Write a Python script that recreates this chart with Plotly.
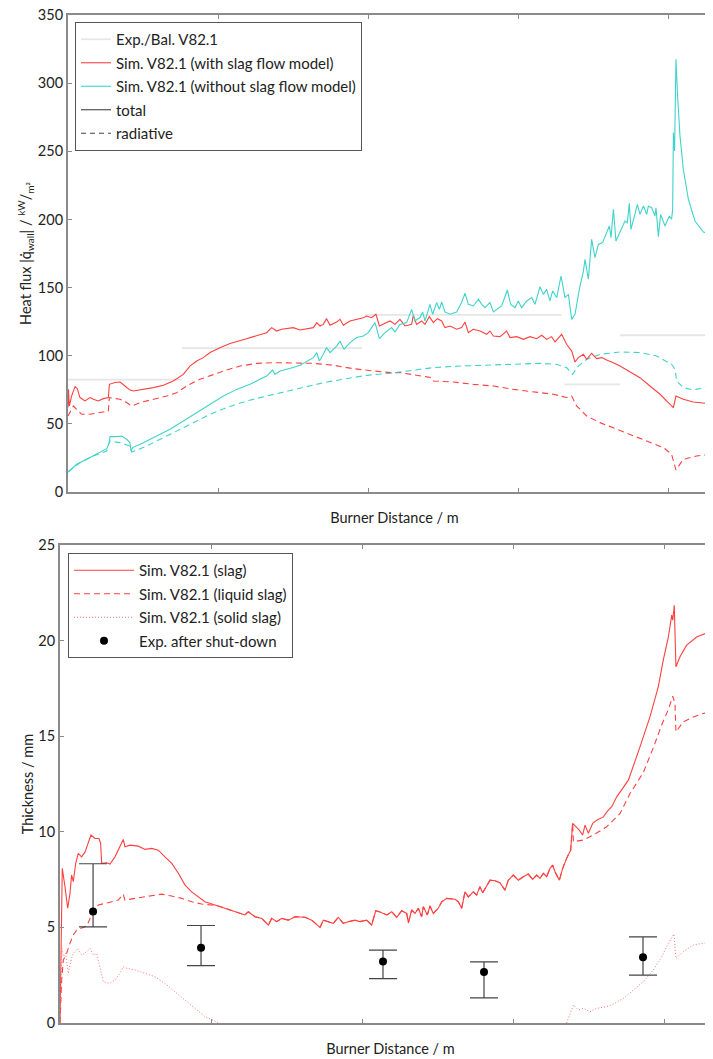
import plotly.graph_objects as go

# ---------------- top panel: heat flux ----------------
exp_start = [0.00, 0.76, 1.98, 3.31, 3.68]
exp_end = [0.76, 1.96, 3.29, 3.68, 4.35]
exp_val = [82.5, 105.5, 130.0, 79.0, 115.0]

red_tot = [(0.000, 62.0), (0.003, 75.3), (0.009, 63.1), (0.024, 70.4), (0.047, 77.3), (0.062, 75.8), (0.080, 69.3),
           (0.113, 66.8), (0.147, 69.3), (0.169, 68.0), (0.202, 66.8), (0.236, 68.5), (0.269, 69.3), (0.276, 79.0),
           (0.313, 80.3), (0.347, 80.7), (0.380, 77.8), (0.413, 74.8), (0.436, 74.1), (0.502, 75.3), (0.569, 76.6),
           (0.636, 78.3), (0.702, 81.4), (0.769, 86.3), (0.813, 92.4), (0.858, 96.1), (0.902, 98.6), (0.947, 102.3),
           (1.013, 105.9), (1.080, 108.9), (1.147, 110.8), (1.191, 112.5), (1.236, 114.0), (1.280, 115.7),
           (1.324, 116.9), (1.358, 120.6), (1.391, 118.1), (1.424, 119.4), (1.458, 119.9), (1.502, 120.6),
           (1.547, 118.9), (1.591, 119.9), (1.636, 120.6), (1.658, 124.3), (1.680, 121.8), (1.702, 123.0),
           (1.724, 127.2), (1.747, 122.3), (1.791, 124.7), (1.813, 126.7), (1.836, 122.3), (1.880, 125.5),
           (1.924, 126.7), (1.969, 127.9), (1.991, 129.1), (2.024, 127.9), (2.053, 130.4), (2.076, 121.8),
           (2.113, 123.8), (2.147, 125.5), (2.180, 123.0), (2.213, 126.7), (2.247, 121.8), (2.291, 123.0),
           (2.302, 129.6), (2.324, 123.0), (2.358, 125.5), (2.380, 123.0), (2.409, 128.7), (2.436, 124.3),
           (2.462, 127.2), (2.491, 125.5), (2.513, 120.6), (2.547, 121.8), (2.591, 119.4), (2.624, 120.6),
           (2.647, 124.7), (2.669, 116.9), (2.702, 119.4), (2.747, 118.1), (2.791, 115.7), (2.813, 118.1),
           (2.836, 114.5), (2.880, 114.0), (2.924, 118.1), (2.947, 113.3), (2.991, 114.0), (3.036, 112.0),
           (3.080, 114.0), (3.124, 112.5), (3.158, 115.0), (3.191, 112.0), (3.224, 114.0), (3.247, 110.1),
           (3.291, 115.7), (3.324, 108.4), (3.358, 103.4), (3.380, 95.4), (3.402, 98.6), (3.436, 101.0),
           (3.458, 97.4), (3.491, 101.8), (3.524, 97.9), (3.558, 98.6), (3.591, 96.8), (3.636, 94.9),
           (3.680, 92.4), (3.747, 88.0), (3.813, 83.9), (3.880, 77.8), (3.947, 71.7), (4.002, 65.6),
           (4.036, 61.9), (4.053, 70.4), (4.102, 68.0), (4.169, 66.0), (4.236, 65.1), (4.350, 64.0)]

red_rad = [(0.000, 55.8), (0.036, 63.1), (0.058, 60.7), (0.091, 57.0), (0.147, 57.0), (0.213, 58.2), (0.269, 59.4),
           (0.276, 69.3), (0.347, 68.0), (0.391, 65.6), (0.424, 63.1), (0.480, 65.6), (0.569, 68.0), (0.658, 70.4),
           (0.724, 72.9), (0.791, 77.8), (0.880, 82.7), (0.969, 86.3), (1.058, 89.5), (1.147, 92.4), (1.258, 94.4),
           (1.369, 94.9), (1.502, 94.4), (1.636, 94.4), (1.769, 93.0), (1.902, 90.5), (2.036, 88.8), (2.147, 87.6),
           (2.213, 87.6), (2.347, 85.1), (2.424, 83.9), (2.436, 81.4), (2.569, 80.7), (2.702, 79.0), (2.836, 77.8),
           (2.969, 75.3), (3.102, 73.4), (3.236, 71.7), (3.324, 69.3), (3.358, 70.4), (3.391, 63.1), (3.458, 55.8),
           (3.547, 50.9), (3.636, 47.2), (3.747, 42.3), (3.858, 37.4), (3.969, 32.6), (4.024, 27.7), (4.053, 16.1),
           (4.102, 24.0), (4.191, 26.4), (4.350, 28.8)]

cyan_tot = [(0.000, 14.7), (0.058, 20.3), (0.124, 24.0), (0.191, 27.7), (0.258, 31.8), (0.276, 36.2), (0.280, 40.6),
            (0.324, 40.6), (0.358, 41.1), (0.391, 38.7), (0.413, 36.2), (0.420, 30.1), (0.431, 32.6), (0.502, 36.2),
            (0.591, 41.1), (0.680, 46.0), (0.769, 52.1), (0.858, 58.2), (0.947, 64.3), (1.036, 70.4), (1.124, 75.3),
            (1.213, 79.0), (1.280, 82.7), (1.324, 85.1), (1.364, 89.5), (1.380, 86.3), (1.413, 88.8), (1.458, 90.0),
            (1.502, 91.3), (1.547, 93.0), (1.602, 96.1), (1.636, 98.6), (1.658, 102.3), (1.676, 96.1),
            (1.702, 101.0), (1.724, 105.9), (1.747, 102.3), (1.791, 107.1), (1.813, 110.8), (1.840, 104.7),
            (1.880, 109.6), (1.924, 113.3), (1.969, 114.5), (2.002, 116.9), (2.047, 124.3), (2.076, 112.5),
            (2.113, 116.9), (2.158, 120.6), (2.180, 117.4), (2.213, 123.0), (2.258, 124.3), (2.291, 134.0),
            (2.313, 125.5), (2.347, 128.0), (2.364, 132.1), (2.380, 125.5), (2.413, 137.7), (2.431, 130.4),
            (2.458, 139.0), (2.476, 134.0), (2.491, 139.4), (2.513, 132.1), (2.547, 130.4), (2.591, 132.1),
            (2.624, 139.0), (2.647, 145.8), (2.669, 137.7), (2.702, 136.5), (2.736, 141.4), (2.758, 137.7),
            (2.780, 135.3), (2.813, 139.0), (2.836, 132.1), (2.891, 136.5), (2.929, 148.2), (2.951, 137.7),
            (2.980, 135.3), (3.002, 140.2), (3.024, 135.3), (3.058, 140.2), (3.091, 142.6), (3.113, 137.7),
            (3.147, 150.7), (3.169, 145.0), (3.191, 148.7), (3.213, 140.2), (3.231, 147.5), (3.258, 142.6),
            (3.287, 158.5), (3.313, 142.6), (3.336, 145.0), (3.358, 126.7), (3.380, 130.4), (3.409, 148.7),
            (3.436, 162.1), (3.447, 170.7), (3.469, 156.1), (3.491, 185.4), (3.513, 172.0), (3.536, 181.7),
            (3.564, 183.0), (3.609, 195.2), (3.620, 186.6), (3.636, 207.4), (3.653, 184.2), (3.680, 190.3),
            (3.713, 198.8), (3.729, 197.6), (3.742, 211.8), (3.753, 192.7), (3.780, 205.4), (3.796, 211.1),
            (3.813, 203.7), (3.836, 209.8), (3.858, 203.7), (3.869, 209.8), (3.891, 208.6), (3.913, 202.5),
            (3.920, 208.6), (3.936, 187.4), (3.951, 203.7), (3.980, 195.2), (4.009, 202.5), (4.024, 200.1),
            (4.031, 207.4), (4.036, 263.7), (4.044, 250.2), (4.053, 317.5), (4.064, 290.5), (4.080, 261.2),
            (4.102, 236.8), (4.136, 214.8), (4.180, 198.8), (4.236, 190.8), (4.350, 187.5)]

cyan_rad = [(0.000, 14.7), (0.080, 21.5), (0.169, 26.4), (0.258, 30.1), (0.276, 37.4), (0.347, 36.2), (0.413, 33.7),
            (0.424, 29.3), (0.524, 33.7), (0.613, 38.7), (0.724, 44.8), (0.836, 50.9), (0.947, 57.0), (1.058, 61.9),
            (1.191, 66.8), (1.324, 70.4), (1.458, 74.1), (1.591, 77.3), (1.724, 80.7), (1.858, 83.2), (1.991, 85.6),
            (2.147, 87.1), (2.258, 88.8), (2.436, 91.3), (2.613, 92.4), (2.791, 93.2), (2.969, 93.7), (3.147, 94.4),
            (3.258, 93.7), (3.324, 91.3), (3.364, 86.3), (3.402, 92.4), (3.458, 97.4), (3.547, 101.0),
            (3.680, 102.7), (3.813, 102.3), (3.924, 99.8), (4.024, 93.7), (4.047, 90.0), (4.058, 81.4),
            (4.102, 76.6), (4.169, 74.8), (4.236, 76.6), (4.350, 82.5)]

# ---------------- bottom panel: slag thickness ----------------
slag = [(0.000, 0.0), (0.015, 8.09), (0.033, 7.13), (0.051, 6.00), (0.066, 6.78), (0.077, 7.74), (0.088, 7.39),
        (0.104, 8.35), (0.121, 8.87), (0.143, 8.69), (0.166, 8.95), (0.188, 9.39), (0.205, 9.83), (0.232, 9.65),
        (0.258, 9.65), (0.269, 9.39), (0.276, 8.35), (0.309, 8.38), (0.331, 8.31), (0.364, 8.69), (0.397, 9.22),
        (0.419, 9.60), (0.430, 9.22), (0.464, 9.30), (0.519, 9.25), (0.563, 9.08), (0.607, 9.13), (0.651, 9.04),
        (0.695, 8.69), (0.740, 8.35), (0.784, 7.83), (0.828, 7.21), (0.872, 6.86), (0.916, 6.60), (0.960, 6.34),
        (1.026, 6.17), (1.093, 6.00), (1.159, 5.82), (1.225, 5.65), (1.247, 5.82), (1.291, 5.56), (1.336, 5.47),
        (1.380, 5.12), (1.402, 5.47), (1.435, 5.30), (1.468, 5.47), (1.512, 5.38), (1.556, 5.56), (1.623, 5.53),
        (1.667, 5.38), (1.689, 5.21), (1.722, 5.00), (1.744, 5.38), (1.777, 5.30), (1.810, 5.21), (1.843, 5.53),
        (1.876, 5.21), (1.909, 5.30), (1.954, 5.38), (1.987, 5.30), (2.031, 5.38), (2.064, 5.12), (2.091, 5.87),
        (2.119, 5.80), (2.164, 5.65), (2.197, 5.82), (2.230, 5.53), (2.263, 5.87), (2.296, 5.73), (2.307, 5.24),
        (2.329, 5.91), (2.351, 5.73), (2.373, 6.00), (2.395, 5.56), (2.406, 6.08), (2.433, 5.65), (2.450, 6.12),
        (2.472, 5.73), (2.505, 6.00), (2.528, 6.34), (2.561, 6.52), (2.616, 6.47), (2.638, 6.34), (2.660, 6.00),
        (2.682, 6.86), (2.704, 6.60), (2.737, 6.86), (2.759, 6.69), (2.781, 7.13), (2.799, 6.81), (2.826, 7.16),
        (2.848, 7.47), (2.881, 7.44), (2.914, 7.33), (2.947, 6.95), (2.969, 7.47), (3.002, 7.74), (3.035, 7.47),
        (3.068, 7.65), (3.101, 7.79), (3.130, 7.51), (3.157, 7.74), (3.179, 7.56), (3.201, 7.83), (3.223, 7.65),
        (3.245, 8.09), (3.263, 8.26), (3.278, 7.91), (3.307, 7.47), (3.329, 8.09), (3.355, 8.61), (3.382, 9.04),
        (3.395, 10.44), (3.417, 10.26), (3.439, 10.09), (3.461, 9.83), (3.477, 10.35), (3.499, 9.92),
        (3.528, 10.44), (3.554, 10.61), (3.598, 10.78), (3.631, 11.13), (3.654, 11.31), (3.687, 11.83),
        (3.720, 12.18), (3.764, 12.70), (3.841, 14.44), (3.907, 16.01), (3.962, 17.58), (3.995, 18.98),
        (4.029, 20.19), (4.051, 21.33), (4.058, 21.07), (4.068, 21.85), (4.079, 18.63), (4.106, 19.15),
        (4.150, 19.76), (4.216, 20.19), (4.283, 20.40), (4.350, 20.45)]

liquid_left = [(0.000, 0.0), (0.011, 2.25), (0.022, 3.29), (0.044, 3.64), (0.066, 4.17), (0.088, 4.60), (0.110, 4.86),
               (0.143, 4.95), (0.177, 5.07), (0.199, 5.47), (0.221, 5.91), (0.254, 6.17), (0.298, 6.26),
               (0.342, 6.34), (0.386, 6.43), (0.419, 6.74), (0.430, 6.43), (0.497, 6.52), (0.563, 6.60),
               (0.629, 6.69), (0.673, 6.74), (0.740, 6.64), (0.806, 6.52), (0.872, 6.34), (0.938, 6.22),
               (1.005, 6.17), (1.048, 6.12)]
liquid_right = [(3.400, 9.48), (3.466, 9.57), (3.532, 9.83), (3.620, 10.26), (3.709, 10.96), (3.775, 12.00),
                (3.863, 13.10), (3.929, 14.40), (3.985, 15.60), (4.029, 16.40), (4.058, 17.09), (4.073, 16.71),
                (4.079, 15.23), (4.128, 15.75), (4.194, 16.01), (4.260, 16.19), (4.350, 16.30)]

solid_left = [(0.000, 0.0), (0.011, 3.99), (0.022, 3.47), (0.038, 3.64), (0.055, 2.60), (0.073, 3.29), (0.088, 3.64),
              (0.117, 3.90), (0.143, 3.55), (0.177, 3.73), (0.199, 3.90), (0.221, 3.55), (0.243, 3.64),
              (0.265, 2.94), (0.287, 2.16), (0.331, 2.07), (0.364, 2.25), (0.397, 2.60), (0.419, 2.94),
              (0.442, 2.86), (0.497, 2.77), (0.563, 2.60), (0.629, 2.42), (0.695, 2.07), (0.762, 1.64),
              (0.828, 1.20), (0.894, 0.77), (0.960, 0.33), (1.026, 0.10), (1.048, 0.0)]
solid_right = [(3.355, 0.0), (3.382, 0.51), (3.400, 0.94), (3.433, 0.68), (3.466, 0.77), (3.510, 0.59), (3.554, 0.77),
               (3.620, 0.85), (3.664, 0.99), (3.731, 1.29), (3.797, 1.73), (3.863, 2.16), (3.929, 2.77),
               (3.985, 3.47), (4.029, 4.17), (4.066, 4.65), (4.079, 3.38), (4.128, 3.73), (4.194, 4.08),
               (4.260, 4.17), (4.350, 4.20)]

exp_pos = [0.219, 0.934, 2.139, 2.808, 3.861]
exp_mean = [5.83, 3.93, 3.21, 2.67, 3.44]
exp_hi = [8.33, 5.10, 3.81, 3.20, 4.50]
exp_lo = [5.03, 3.00, 2.32, 1.31, 2.50]

# ---------------- styling ----------------
RED = "#ff4040"
CYAN = "#3fd3cb"
LIGHT = "#e6e6e6"
FONT = "Lato"
FS = 15
W, H = 713, 1059
OFF = 8  # default page margin of the html body


def fx(px):
    return (px - OFF) / W


def fy(py):
    return 1 - (py - OFF) / H


def xs(p):
    return [a for a, _ in p]


def ys(p):
    return [b for _, b in p]


fig = go.Figure()

ex, ey = [], []
for s, e, v in zip(exp_start, exp_end, exp_val):
    ex += [s, e, None]
    ey += [v, v, None]
fig.add_trace(go.Scatter(x=ex, y=ey, mode="lines", line=dict(color=LIGHT, width=1.8),
                         name="Exp./Bal. V82.1", legend="legend", legendgroup="a"))
fig.add_trace(go.Scatter(x=xs(red_rad), y=ys(red_rad), mode="lines",
                         line=dict(color=RED, width=1.1, dash="6px,4px"), showlegend=False))
fig.add_trace(go.Scatter(x=xs(cyan_rad), y=ys(cyan_rad), mode="lines",
                         line=dict(color=CYAN, width=1.1, dash="6px,4px"), showlegend=False))
fig.add_trace(go.Scatter(x=xs(red_tot), y=ys(red_tot), mode="lines", line=dict(color=RED, width=1.1),
                         name="Sim. V82.1 (with slag flow model)", legend="legend", legendgroup="b"))
fig.add_trace(go.Scatter(x=xs(cyan_tot), y=ys(cyan_tot), mode="lines", line=dict(color=CYAN, width=1.1),
                         name="Sim. V82.1 (without slag flow model)", legend="legend", legendgroup="c"))
fig.add_trace(go.Scatter(x=[None], y=[None], mode="lines", line=dict(color="#444444", width=1.1),
                         name="total", legend="legend", legendgroup="d"))
fig.add_trace(go.Scatter(x=[None], y=[None], mode="lines", line=dict(color="#444444", width=1.1, dash="5px,4px"),
                         name="radiative", legend="legend", legendgroup="e"))

# bottom
liq = liquid_left + [p for p in slag if liquid_left[-1][0] < p[0] < liquid_right[0][0]] + liquid_right
fig.add_trace(go.Scatter(x=xs(slag), y=ys(slag), mode="lines", line=dict(color=RED, width=1.1),
                         name="Sim. V82.1 (slag)", xaxis="x2", yaxis="y2", legend="legend2", legendgroup="f"))
fig.add_trace(go.Scatter(x=xs(liq), y=ys(liq), mode="lines", line=dict(color=RED, width=1.1, dash="6px,4px"),
                         name="Sim. V82.1 (liquid slag)", xaxis="x2", yaxis="y2", legend="legend2",
                         legendgroup="g"))
sx = xs(solid_left) + [None] + xs(solid_right)
sy = ys(solid_left) + [None] + ys(solid_right)
fig.add_trace(go.Scatter(x=sx, y=sy, mode="lines", line=dict(color="#ff7070", width=1.0, dash="1px,2px"),
                         name="Sim. V82.1 (solid slag)", xaxis="x2", yaxis="y2", legend="legend2",
                         legendgroup="h"))
fig.add_trace(go.Scatter(x=exp_pos, y=exp_mean, mode="markers",
                         marker=dict(color="black", size=8),
                         error_y=dict(type="data", symmetric=False,
                                      array=[h - m for h, m in zip(exp_hi, exp_mean)],
                                      arrayminus=[m - l for m, l in zip(exp_mean, exp_lo)],
                                      color="#444444", thickness=1.2, width=14),
                         name="Exp. after shut-down", xaxis="x2", yaxis="y2", legend="legend2",
                         legendgroup="i"))

axis_common = dict(showgrid=False, zeroline=False, showline=True, linecolor="#8a8a8a", linewidth=2,
                   ticks="inside", ticklen=4, tickcolor="#8a8a8a", tickwidth=1, automargin=False)
tickfont = dict(family=FONT, size=FS - 0.5, color="#222222")
tfont = dict(family=FONT, size=FS - 0.5, color="#222222")
lfont = dict(family=FONT, size=FS, color="#222222")

fig.update_layout(
    width=W, height=H, margin=dict(l=0, r=0, t=0, b=0),
    paper_bgcolor="white", plot_bgcolor="white",
    font=dict(family=FONT, size=FS, color="#222222"),
    xaxis=dict(**axis_common, domain=[fx(68), 1.0], range=[0, (W + OFF - 68) / 150], dtick=1, tick0=0,
               showticklabels=False, mirror="ticks", anchor="y",
               title=dict(text="Burner Distance / m", font=tfont, standoff=20)),
    yaxis=dict(**axis_common, domain=[fy(492), fy(15)], range=[0, 350], dtick=50,
               tickfont=tickfont, anchor="x", ticklabeloverflow="allow",
               title=dict(text="Heat flux |q\u0307<sub>wall</sub>| / <sup>kW</sup>/<sub>m\u00b2</sub>",
                          font=tfont, standoff=3)),
    xaxis2=dict(**axis_common, domain=[fx(60), 1.0], range=[0, (W + OFF - 60) / 151], dtick=1, tick0=0,
                showticklabels=False, mirror="ticks", anchor="y2",
                title=dict(text="Burner Distance / m", font=tfont, standoff=20)),
    yaxis2=dict(**axis_common, domain=[fy(1023), fy(545)], range=[0, 25], dtick=5,
                tickfont=tickfont, anchor="x2", ticklabeloverflow="allow",
                title=dict(text="Thickness / mm", font=tfont, standoff=1)),
    legend=dict(x=fx(75), y=fy(22), xanchor="left", yanchor="top", bgcolor="white",
                bordercolor="#555555", borderwidth=1, font=lfont, tracegroupgap=1, itemwidth=30),
    legend2=dict(x=fx(68), y=fy(553), xanchor="left", yanchor="top", bgcolor="white",
                 bordercolor="#555555", borderwidth=1, font=lfont, tracegroupgap=1, itemwidth=60),
)

fig.write_html("out.html")
